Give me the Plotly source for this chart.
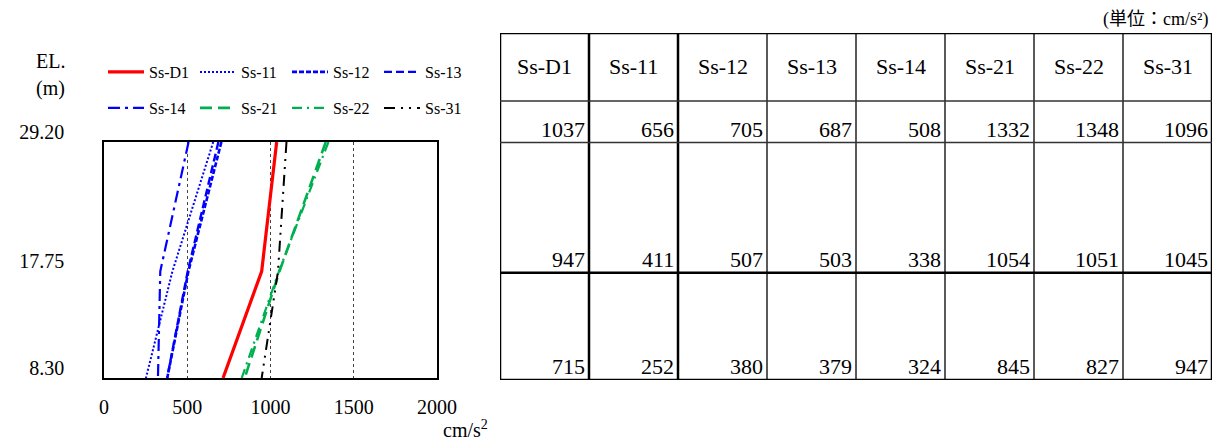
import plotly.graph_objects as go

# ---------------- data ----------------
levels = [29.20, 17.75, 8.30]          # EL. (m)
series_names = ["Ss-D1", "Ss-11", "Ss-12", "Ss-13", "Ss-14", "Ss-21", "Ss-22", "Ss-31"]
ss_d1 = [1037, 947, 715]
ss_11 = [656, 411, 252]
ss_12 = [705, 507, 380]
ss_13 = [687, 503, 379]
ss_14 = [508, 338, 324]
ss_21 = [1332, 1054, 845]
ss_22 = [1348, 1051, 827]
ss_31 = [1096, 1045, 947]
series_values = [ss_d1, ss_11, ss_12, ss_13, ss_14, ss_21, ss_22, ss_31]
x_ticks = [0, 500, 1000, 1500, 2000]
level_labels = ["29.20", "17.75", "8.30"]

# ---------------- layout helpers (page has an 8px body margin) ----------------
OFF = 8
W, H = 1228 - OFF, 447 - OFF


def fx(p):  # reference pixel x -> paper fraction
    return (p - OFF) / W


def fy(p):  # reference pixel y -> paper fraction
    return 1 - (p - OFF) / H


SERIF = "Liberation Serif, Noto Serif, serif"
CJK = "Liberation Serif, Noto Sans CJK JP"
FS = 20
TFS = 22
styles = [
    dict(color="#FF0000", width=3.2, dash="solid"),
    dict(color="#0000FF", width=2.0, dash="2px,2px"),
    dict(color="#0000FF", width=2.6, dash="5px,2px"),
    dict(color="#0000FF", width=2.4, dash="8px,4px"),
    dict(color="#0000FF", width=2.2, dash="12px,5px,3px,5px"),
    dict(color="#00B050", width=2.6, dash="12px,6px"),
    dict(color="#00B050", width=2.2, dash="10px,5px,2px,5px"),
    dict(color="#000000", width=2.0, dash="11px,6px,2px,6px,2px,6px"),
]

fig = go.Figure()
for i, (name, vals, st) in enumerate(zip(series_names, series_values, styles)):
    fig.add_trace(go.Scatter(
        x=vals, y=levels, mode="lines", name=name,
        line=st, legend="legend" if i < 4 else "legend2",
        xaxis="x", yaxis="y",
    ))

# ---------------- table (own axes) ----------------
header_top, header_bottom = 38.84, 32.86
ncol = len(series_names)
shapes = []
vwidths = [2.5, 2.5, 2.5, 1.3, 1.3, 1.3, 1.3, 1.3, 2.5]
for c in range(ncol + 1):
    shapes.append(dict(type="line", xref="x2", yref="y2", x0=c, x1=c,
                       y0=levels[-1], y1=header_top,
                       line=dict(color="black", width=vwidths[c])))
hlines = [(header_top, 2.5, "black"), (header_bottom, 1.4, "#333"),
          (levels[0], 1.4, "#333"), (levels[1], 2.5, "black"), (levels[2], 2.5, "black")]
for yv, w, col in hlines:
    shapes.append(dict(type="line", xref="x2", yref="y2", x0=0, x1=ncol, y0=yv, y1=yv,
                       line=dict(color=col, width=w)))

annotations = []
for c, name in enumerate(series_names):
    annotations.append(dict(xref="x2", yref="y2", x=c + 0.5, y=(header_top + header_bottom) / 2,
                            text=name, showarrow=False, font=dict(family=SERIF, size=TFS, color="black"),
                            xanchor="center", yanchor="middle"))
    for lv, v in zip(levels, series_values[c]):
        annotations.append(dict(xref="x2", yref="y2", x=c + 1, y=lv, text=str(v), showarrow=False,
                                font=dict(family=SERIF, size=TFS, color="black"),
                                xanchor="right", yanchor="bottom", xshift=-2, yshift=-1))

annotations += [
    dict(xref="paper", yref="paper", x=fx(67), y=fy(61), text="EL.", showarrow=False,
         xanchor="right", yanchor="middle", font=dict(family=SERIF, size=FS, color="black")),
    dict(xref="paper", yref="paper", x=fx(67), y=fy(88), text="(m)", showarrow=False,
         xanchor="right", yanchor="middle", font=dict(family=SERIF, size=FS, color="black")),
    dict(xref="paper", yref="paper", x=fx(441), y=fy(429), text="cm/s<sup>2</sup>", showarrow=False,
         xanchor="left", yanchor="middle", font=dict(family=SERIF, size=FS, color="black")),
    dict(xref="paper", yref="paper", x=fx(1210), y=fy(20), text="(単位：cm/s²)", showarrow=False,
         xanchor="right", yanchor="middle", font=dict(family=CJK, size=18, color="black")),
]

fig.update_layout(
    width=W, height=H,
    margin=dict(l=0, r=0, t=0, b=0, autoexpand=False),
    paper_bgcolor="white", plot_bgcolor="white",
    font=dict(family=SERIF, size=FS, color="black"),
    xaxis=dict(domain=[fx(104), fx(437)], range=[0, 2000], tickvals=x_ticks,
               ticktext=[str(t) for t in x_ticks], showgrid=True, gridcolor="#444",
               griddash="3px,3px", gridwidth=1, zeroline=False, showline=True, mirror=True,
               linecolor="black", linewidth=1.5, ticks="", ticklabelstandoff=10,
               tickfont=dict(family=SERIF, size=FS), automargin=False, fixedrange=True),
    yaxis=dict(domain=[fy(378), fy(142)], range=[levels[-1], levels[0]],
               tickvals=levels, ticktext=level_labels, showgrid=False, zeroline=False,
               showline=True, mirror=True, linecolor="black", linewidth=1.5, ticks="",
               ticklabelstandoff=34, ticklabelshift=-10,
               tickfont=dict(family=SERIF, size=FS), automargin=False, fixedrange=True),
    xaxis2=dict(domain=[fx(500), fx(1212)], range=[0, ncol], visible=False, anchor="y2"),
    yaxis2=dict(domain=[fy(380), fy(33)], range=[levels[-1], header_top], visible=False,
                anchor="x2"),
    legend=dict(orientation="h", x=fx(103), y=fy(72), xanchor="left", yanchor="middle",
                entrywidth=41, entrywidthmode="pixels", bgcolor="rgba(0,0,0,0)",
                font=dict(family=SERIF, size=16), itemwidth=36, tracegroupgap=0),
    legend2=dict(orientation="h", x=fx(103), y=fy(108), xanchor="left", yanchor="middle",
                 entrywidth=41, entrywidthmode="pixels", bgcolor="rgba(0,0,0,0)",
                 font=dict(family=SERIF, size=16), itemwidth=36, tracegroupgap=0),
    shapes=shapes,
    annotations=annotations,
    showlegend=True,
)

fig.write_html("out.html")
